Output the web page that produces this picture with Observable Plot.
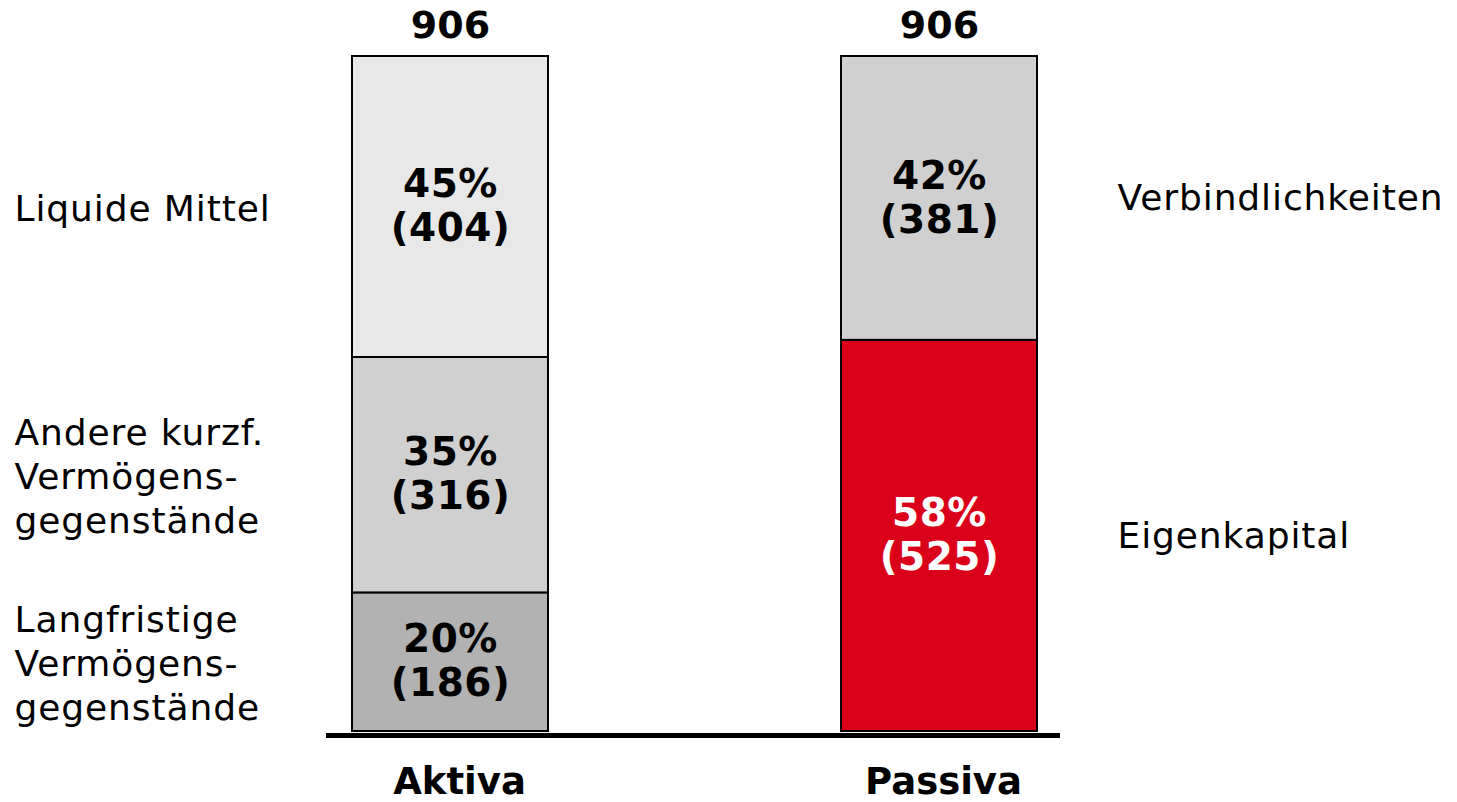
<!DOCTYPE html>
<html>
<head>
<meta charset="utf-8">
<script src="https://cdn.jsdelivr.net/npm/d3@7"></script>
<script src="https://cdn.jsdelivr.net/npm/@observablehq/plot@0.6"></script>
<style>
  html, body { margin: 0; padding: 0; background: #fff; }
  svg { display: block; font-family: "DejaVu Sans", Verdana, sans-serif; }
</style>
</head>
<body>
<div id="chart"></div>
<script>
const categories = ["Aktiva", "Passiva"];
const segmentSide = ["Aktiva", "Aktiva", "Aktiva", "Passiva", "Passiva"];
const segmentNames = [
  "Langfristige\nVermögens-\ngegenstände",
  "Andere kurzf.\nVermögens-\ngegenstände",
  "Liquide Mittel",
  "Eigenkapital",
  "Verbindlichkeiten"
];
const segmentValues = [186, 316, 404, 525, 381];
const segmentShares = [20, 35, 45, 58, 42];
const segmentColors = ["#b2b2b2", "#d0d0d0", "#e8e8e8", "#da0019", "#d0d0d0"];
const segmentTextColors = ["#000", "#000", "#000", "#fff", "#000"];
const totals = [906, 906];

const segments = segmentValues.map((v, i) => ({
  side: segmentSide[i],
  name: segmentNames[i],
  value: v,
  share: segmentShares[i],
  color: segmentColors[i],
  textColor: segmentTextColors[i]
}));
const totalRows = categories.map((c, i) => ({side: c, total: totals[i]}));

const chart = Plot.plot({
  width: 1457,
  height: 802,
  marginLeft: 326,
  marginRight: 397,
  marginTop: 56,
  marginBottom: 71,
  style: {fontFamily: "DejaVu Sans, Verdana, sans-serif", background: "#fff"},
  x: {domain: categories, range: [352, 1037], paddingInner: 0.6, paddingOuter: 0, axis: null},
  y: {domain: [0, 906], range: [731, 56], axis: null},
  marks: [
    Plot.barY(segments, {x: "side", y: "value", fill: "color", stroke: "#000", strokeWidth: 2}),
    Plot.text(segments, Plot.stackY({
      x: "side", y: "value",
      text: d => `${d.share}%\n(${d.value})`,
      fill: "textColor", fontSize: 39, fontWeight: "bold", lineHeight: 1.13, dy: -2
    })),
    Plot.text(segments.filter(d => d.side === "Aktiva"), Plot.stackY({
      x: "side", y: "value", text: "name",
      textAnchor: "start", dx: -436, fontSize: 36, lineHeight: 1.22, fill: "#000"
    })),
    Plot.text(segments.filter(d => d.side === "Passiva"), Plot.stackY({
      x: "side", y: "value", text: "name",
      textAnchor: "start", dx: 178, dy: -2, fontSize: 36, lineHeight: 1.22, fill: "#000"
    })),
    Plot.text(totalRows, {x: "side", y: "total", text: d => String(d.total), dy: -31, fontSize: 38, fontWeight: "bold", fill: "#000"}),
    Plot.text(totalRows.filter(d => d.side === "Aktiva"), {x: "side", y: () => 0, text: "side", dx: 9, dy: 51, fontSize: 37, fontWeight: "bold", fill: "#000"}),
    Plot.text(totalRows.filter(d => d.side === "Passiva"), {x: "side", y: () => 0, text: "side", dx: 4, dy: 51, fontSize: 37, fontWeight: "bold", fill: "#000"}),
    Plot.ruleY([0], {dy: 4, stroke: "#000", strokeWidth: 5})
  ]
});
d3.select(chart).selectAll('g[font-size="36"]').style("letter-spacing", "0.9px");
d3.select(chart).selectAll('g[font-size="39"]').style("letter-spacing", "0.5px");
document.getElementById("chart").appendChild(chart);
</script>
</body>
</html>
